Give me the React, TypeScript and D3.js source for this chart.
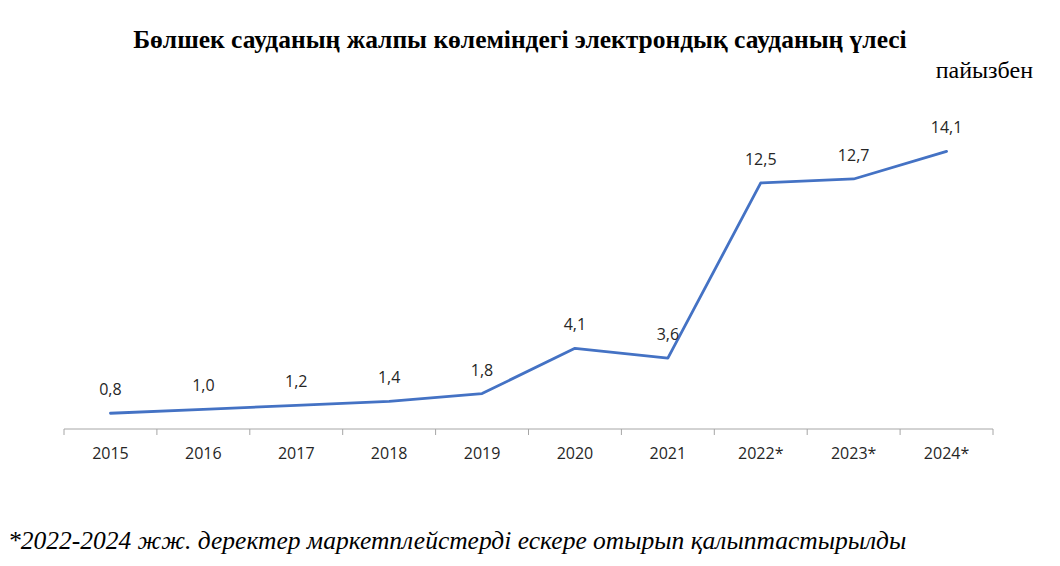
import { useEffect, useRef } from 'react';
import * as d3 from 'd3';

const years = ['2015', '2016', '2017', '2018', '2019', '2020', '2021', '2022*', '2023*', '2024*'];
const shares = [0.8, 1.0, 1.2, 1.4, 1.8, 4.1, 3.6, 12.5, 12.7, 14.1];

const W = 1060;
const H = 566;

export default function App() {
  const svgRef = useRef<SVGSVGElement>(null);

  useEffect(() => {
    if (!svgRef.current) return;
    const svg = d3.select(svgRef.current);
    svg.selectAll('*').remove();

    const x = d3.scaleBand<string>().domain(years).range([64, 993]);
    const y = d3.scaleLinear().domain([0, 16]).range([429, 114]);
    const cx = (d: string) => (x(d) ?? 0) + x.bandwidth() / 2;

    svg
      .append('text')
      .attr('x', 520)
      .attr('y', 48)
      .attr('text-anchor', 'middle')
      .style('font-family', '"Liberation Serif", serif')
      .style('font-weight', 'bold')
      .style('font-size', '25.5px')
      .text('Бөлшек сауданың жалпы көлеміндегі электрондық сауданың үлесі');

    svg
      .append('text')
      .attr('x', 1033)
      .attr('y', 78)
      .attr('text-anchor', 'end')
      .style('font-family', '"Liberation Serif", serif')
      .style('font-size', '24px')
      .text('пайызбен');

    // x axis
    const axis = svg.append('g').attr('transform', 'translate(0,429)');
    axis
      .append('line')
      .attr('x1', 64)
      .attr('x2', 993)
      .attr('stroke', '#a6a6a6')
      .attr('stroke-width', 1);
    const edges = [...years.map((d) => x(d) ?? 0), 993];
    axis
      .selectAll('line.tick')
      .data(edges)
      .enter()
      .append('line')
      .attr('class', 'tick')
      .attr('x1', (d) => d)
      .attr('x2', (d) => d)
      .attr('y1', 0)
      .attr('y2', 6)
      .attr('stroke', '#a6a6a6');
    axis
      .selectAll('text')
      .data(years)
      .enter()
      .append('text')
      .attr('x', (d) => cx(d))
      .attr('y', 30)
      .attr('text-anchor', 'middle')
      .style('font-family', '"Open Sans", sans-serif')
      .style('font-size', '16px')
      .attr('fill', '#262626')
      .text((d) => d);

    const line = d3
      .line<number>()
      .x((_, i) => cx(years[i]))
      .y((d) => y(d));

    svg
      .append('path')
      .datum(shares)
      .attr('fill', 'none')
      .attr('stroke', '#4472c4')
      .attr('stroke-width', 2.8)
      .attr('stroke-linejoin', 'round')
      .attr('stroke-linecap', 'round')
      .attr('d', line);

    svg
      .append('g')
      .selectAll('text')
      .data(shares)
      .enter()
      .append('text')
      .attr('x', (_, i) => cx(years[i]))
      .attr('y', (d) => y(d) - 18)
      .attr('text-anchor', 'middle')
      .style('font-family', '"Open Sans", sans-serif')
      .style('font-size', '16px')
      .attr('fill', '#262626')
      .text((d) => d.toFixed(1).replace('.', ','));

    svg
      .append('text')
      .attr('x', 8)
      .attr('y', 549)
      .style('font-family', '"Liberation Serif", serif')
      .style('font-style', 'italic')
      .style('font-size', '25.5px')
      .text('*2022-2024 жж. деректер маркетплейстерді ескере отырып қалыптастырылды');
  }, []);

  return (
    <div style={{ position: 'absolute', left: 0, top: 0 }}>
      <svg ref={svgRef} width={W} height={H} style={{ display: 'block', background: '#fff' }} />
    </div>
  );
}
